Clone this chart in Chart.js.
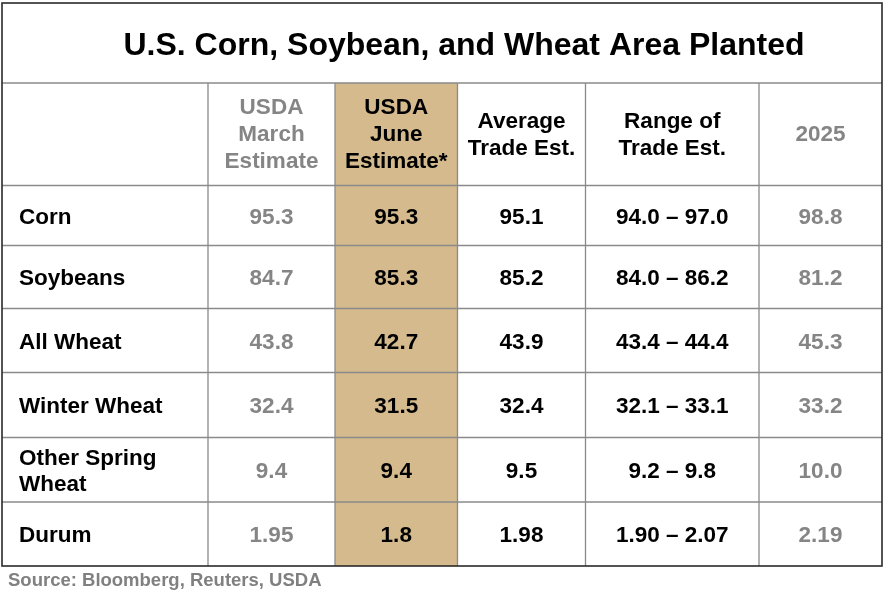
<!DOCTYPE html>
<html><head><meta charset="utf-8">
<script src="https://cdn.jsdelivr.net/npm/chart.js@4.4.1/dist/chart.umd.min.js"></script>
<style>html,body{margin:0;padding:0;background:#fff;}#wrap{width:884px;height:597px;}</style>
</head><body><div id="wrap"><canvas id="c" width="884" height="597"></canvas></div>
<script>
// ---- data ----
const title = "U.S. Corn, Soybean, and Wheat Area Planted";
const source = "Source: Bloomberg, Reuters, USDA";
const columnHeaders = [[""], ["USDA","March","Estimate"], ["USDA","June","Estimate*"], ["Average","Trade Est."], ["Range of","Trade Est."], ["2025"]];
const categories = [["Corn"], ["Soybeans"], ["All Wheat"], ["Winter Wheat"], ["Other Spring","Wheat"], ["Durum"]];
const marchEstimate = ["95.3","84.7","43.8","32.4","9.4","1.95"];
const juneEstimate  = ["95.3","85.3","42.7","31.5","9.4","1.8"];
const avgTradeEst   = ["95.1","85.2","43.9","32.4","9.5","1.98"];
const rangeLow      = ["94.0","84.0","43.4","32.1","9.2","1.90"];
const rangeHigh     = ["97.0","86.2","44.4","33.1","9.8","2.07"];
const year2025      = ["98.8","81.2","45.3","33.2","10.0","2.19"];

// ---- layout (table units) ----
const colEdges = [0, 206, 333, 455.5, 583.5, 757, 880];
const rowEdges = [0, 80, 182.5, 242.5, 305.5, 369.5, 434.5, 499, 563];
const GREY = "#858585", TAN = "#D4BA8D", LINE = "#8a8a8a", BORDER = "#2a2a2a";
const colColors = ["#000", GREY, "#000", "#000", "#000", GREY];
const FONT = "'Liberation Sans', Arial, sans-serif";

const columns = [categories.map(c=>c), marchEstimate, juneEstimate, avgTradeEst,
  rangeLow.map((l,i)=>l+" \u2013 "+rangeHigh[i]), year2025];

const tablePlugin = {
  id: 'table',
  beforeDatasetsDraw(chart) {
    const ctx = chart.ctx, X = chart.scales.x, Y = chart.scales.y;
    const px = v => X.getPixelForValue(v), py = v => Y.getPixelForValue(v);
    ctx.save();
    // highlight column
    ctx.fillStyle = TAN;
    ctx.fillRect(px(colEdges[2]), py(rowEdges[1]), px(colEdges[3]) - px(colEdges[2]), py(rowEdges[rowEdges.length-1]) - py(rowEdges[1]));
    // inner lines
    ctx.strokeStyle = LINE; ctx.lineWidth = 1.3;
    ctx.beginPath();
    for (let r = 1; r < rowEdges.length - 1; r++) {
      ctx.moveTo(px(colEdges[0]), py(rowEdges[r])); ctx.lineTo(px(colEdges[colEdges.length-1]), py(rowEdges[r]));
    }
    for (let c = 1; c < colEdges.length - 1; c++) {
      ctx.moveTo(px(colEdges[c]), py(rowEdges[1])); ctx.lineTo(px(colEdges[c]), py(rowEdges[rowEdges.length-1]));
    }
    ctx.stroke();
    // outer border
    ctx.strokeStyle = BORDER; ctx.lineWidth = 1.6;
    ctx.strokeRect(px(colEdges[0]), py(rowEdges[0]), px(colEdges[colEdges.length-1]) - px(colEdges[0]), py(rowEdges[rowEdges.length-1]) - py(rowEdges[0]));
    // title
    ctx.fillStyle = "#000"; ctx.textAlign = "center"; ctx.textBaseline = "middle";
    ctx.font = "bold 32px " + FONT;
    ctx.fillText(title, px(462), py((rowEdges[0] + rowEdges[1]) / 2) + 3);
    // headers
    ctx.font = "bold 22.5px " + FONT;
    const lh = 27;
    columnHeaders.forEach((lines, c) => {
      ctx.fillStyle = colColors[c];
      const cx = px((colEdges[c] + colEdges[c+1]) / 2);
      const cy = py((rowEdges[1] + rowEdges[2]) / 2) + 1;
      lines.forEach((t, i) => ctx.fillText(t, cx, cy + (i - (lines.length - 1) / 2) * lh));
    });
    // body
    ctx.font = "bold 22.5px " + FONT;
    for (let r = 0; r < categories.length; r++) {
      const cy = py((rowEdges[r+2] + rowEdges[r+3]) / 2) + 2;
      columns.forEach((col, c) => {
        ctx.fillStyle = colColors[c];
        if (c === 0) {
          ctx.textAlign = "left";
          const lines = col[r];
          lines.forEach((t, i) => ctx.fillText(t, px(colEdges[0]) + 17, cy + (i - (lines.length - 1) / 2) * 26));
        } else {
          ctx.textAlign = "center";
          ctx.fillText(col[r], px((colEdges[c] + colEdges[c+1]) / 2), cy);
        }
      });
    }
    // source
    ctx.textAlign = "left"; ctx.fillStyle = "#808080";
    ctx.font = "bold 18.5px " + FONT;
    ctx.fillText(source, 8, py(rowEdges[rowEdges.length-1]) + 15);
    ctx.restore();
  }
};

new Chart(document.getElementById('c'), {
  type: 'scatter',
  data: { datasets: [] },
  options: {
    responsive: false, animation: false, devicePixelRatio: 1,
    layout: { padding: { left: 2, right: 2, top: 3, bottom: 31 } },
    plugins: { legend: { display: false }, tooltip: { enabled: false } },
    scales: {
      x: { type: 'linear', min: 0, max: 880, display: false },
      y: { type: 'linear', min: 0, max: 563, reverse: true, display: false }
    }
  },
  plugins: [tablePlugin]
});
</script></body></html>
